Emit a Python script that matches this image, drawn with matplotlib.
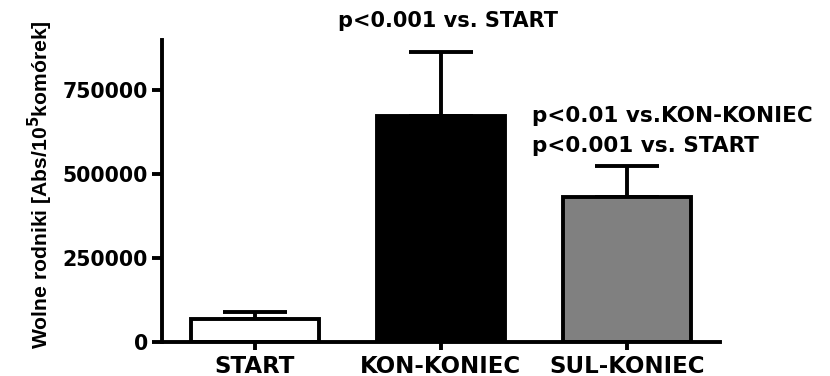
import numpy as np
import matplotlib.pyplot as plt

plt.rcParams['font.family'] = ['DejaVu Sans']
plt.rcParams['font.weight'] = 'bold'
plt.rcParams['mathtext.default'] = 'bf'

groups = ['START', 'KON-KONIEC', 'SUL-KONIEC']
means = [70000, 675000, 433000]
sem = [19000, 190000, 92000]
fills = ['white', 'black', '#808080']
yticks = [0, 250000, 500000, 750000]

fig = plt.figure(figsize=(8.3, 3.76), dpi=100)
ax = fig.add_axes([0.195, 0.0904, 0.672, 0.8032])

x = np.arange(len(groups))
ax.errorbar(x, means, yerr=[np.zeros(len(sem)), sem], fmt='none', ecolor='black',
            elinewidth=2.8, capsize=23, capthick=2.8, zorder=1)
ax.bar(x, means, width=0.69, color=fills, edgecolor='black', linewidth=2.8, zorder=2)

ax.set_xlim(-0.5, 2.5)
ax.set_ylim(0, 900000)
ax.set_yticks(yticks)
ax.set_yticklabels([str(v) for v in yticks], fontsize=14.8, fontweight='bold')
ax.set_xticks(x)
ax.set_xticklabels(groups, fontsize=16.5, fontweight='bold')
ax.tick_params(axis='y', length=7, width=2.8, pad=3)
ax.tick_params(axis='x', length=6, width=2.8, pad=3)

for side in ['top', 'right']:
    ax.spines[side].set_visible(False)
for side in ['left', 'bottom']:
    ax.spines[side].set_linewidth(2.8)

# axis title in an Arial-like face, superscript kept bold through mathtext
ax.set_ylabel(r'Wolne rodniki [Abs/10$^{\mathsf{5}}$komórek]', fontsize=15.2,
              fontweight='bold', family='Liberation Sans')
ax.yaxis.set_label_coords(-0.192, 0.52)

ax.text(1.04, 1.043, 'p<0.001 vs. START', transform=ax.get_xaxis_transform(),
        ha='center', va='baseline', fontsize=15, fontweight='bold')
ax.text(1.49, 655000, 'p<0.01 vs.KON-KONIEC', ha='left', va='baseline',
        fontsize=15.5, fontweight='bold')
ax.text(1.49, 566000, 'p<0.001 vs. START', ha='left', va='baseline',
        fontsize=15.5, fontweight='bold')

fig.savefig('out.png', dpi=100)
